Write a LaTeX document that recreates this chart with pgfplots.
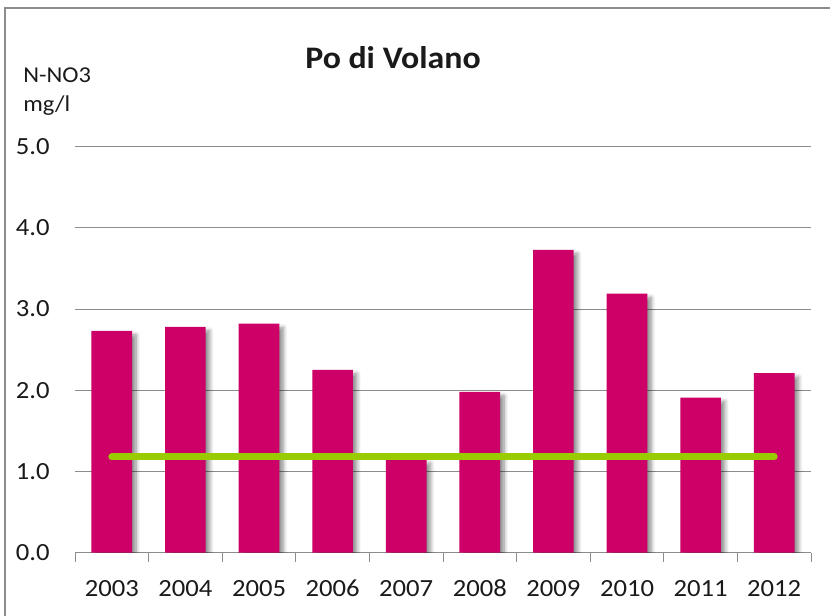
\documentclass[border=0pt]{standalone}
\usepackage{fontspec}
\setmainfont{Carlito}[FakeStretch=1.08]
\usepackage{pgfplots}
\pgfplotsset{compat=1.18}
\usetikzlibrary{shadows.blur}
\definecolor{barc}{HTML}{CC0066}
\definecolor{linec}{HTML}{99CC00}
\definecolor{gridc}{HTML}{8C8C8C}
\definecolor{txt}{HTML}{1A1A1A}
\begin{document}
\begin{tikzpicture}
\useasboundingbox (0,0) rectangle (622.5pt,462pt);
\draw[gridc, line width=1.5pt] (3.75pt,-20pt) rectangle (660pt,456pt);
\node[anchor=center, font=\fontsize{23.5}{28}\selectfont\bfseries, text=txt] at (294.75pt,418.5pt) {Po di Volano};
\node[anchor=base west, inner sep=0pt, font=\fontsize{17}{20}\selectfont, text=txt] at (17.25pt,399.75pt) {N-NO3};
\node[anchor=base west, inner sep=0pt, font=\fontsize{17}{20}\selectfont, text=txt] at (17.25pt,378.2pt) {mg/l};
\begin{axis}[
  at={(56.25pt,47.5pt)}, anchor=south west,
  scale only axis, width=552pt, height=304.5pt,
  xmin=-0.5, xmax=9.5, ymin=0, ymax=5,
  axis x line*=bottom, axis y line*=left,
  y axis line style={draw=none},
  x axis line style={gridc, line width=0.75pt},
  xtick={0,...,9},
  xticklabels={2003,2004,2005,2006,2007,2008,2009,2010,2011,2012},
  minor xtick={-0.5,0.5,...,9.5},
  major tick length=0pt, minor tick length=6.75pt,
  tick align=outside,
  tick style={gridc, line width=0.75pt},
  ytick={0,1,2,3,4,5},
  ymajorgrids,
  grid style={gridc, line width=0.75pt},
  /pgf/number format/assume math mode=true,
  yticklabel style={/pgf/number format/fixed, /pgf/number format/fixed zerofill, /pgf/number format/precision=1, xshift=-15.5pt},
  ticklabel style={font=\fontsize{18.5}{22}\selectfont, text=txt},
  xticklabel style={yshift=-17pt},
]
\addplot[ybar, bar width=30.5pt, fill=barc, draw=none,
  blur shadow={shadow xshift=3pt, shadow yshift=-3pt, shadow blur radius=3pt, shadow blur steps=8, shadow opacity=45}]
  coordinates {(0,2.73) (1,2.78) (2,2.82) (3,2.25) (4,1.15) (5,1.98) (6,3.73) (7,3.19) (8,1.91) (9,2.21)};
\addplot[linec, line width=5.25pt, line cap=round] coordinates {(0,1.18) (9,1.18)};
\end{axis}
\end{tikzpicture}
\end{document}
